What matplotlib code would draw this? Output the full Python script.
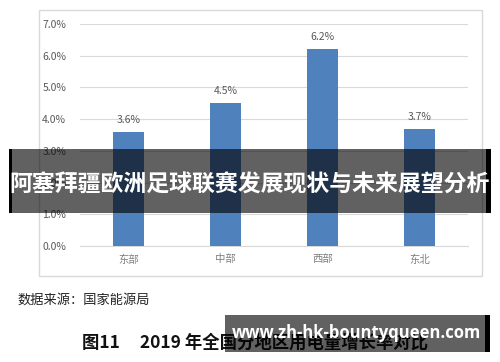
import matplotlib
matplotlib.use("Agg")
import matplotlib.pyplot as plt
from matplotlib.patches import Rectangle

plt.rcParams['font.family'] = ['Noto Sans CJK SC', 'DejaVu Sans']

# 数据
regions = ['东部', '中部', '西部', '东北']
growth = [3.6, 4.5, 6.2, 3.7]
yticks = [0, 1, 2, 3, 4, 5, 6, 7]

banner_text = '阿塞拜疆欧洲足球联赛发展现状与未来展望分析'
source_text = '数据来源：国家能源局'
caption_text = '图11     2019 年全国分地区用电量增长率对比'
watermark_text = 'www.zh-hk-bountyqueen.com'

W, H = 500, 362
fig = plt.figure(figsize=(W / 100, H / 100), dpi=100)

def fx(px):
    return px / W

def fy(py):
    return 1 - py / H

# 图表外框
fig.patches.append(Rectangle((fx(39), fy(276)), fx(443), 266 / H,
                             transform=fig.transFigure, fill=False,
                             edgecolor='#d9d9d9', linewidth=1))

ax = fig.add_axes([fx(80), fy(246), fx(388), 222 / H])
x = range(len(regions))
bars = ax.bar(x, growth, width=0.31, color='#4f81bd', zorder=3)
for xi, v in zip(x, growth):
    ax.text(xi, v + 0.22, f'{v:.1f}%', ha='center', va='bottom',
            fontsize=7.5, color='#595959')

ax.set_ylim(0, 7)
ax.set_xlim(-0.5, len(regions) - 0.5)
ax.set_yticks(yticks)
ax.set_yticklabels([f'{t:.1f}%' for t in yticks], fontsize=7.5, color='#595959')
ax.set_xticks(list(x))
ax.set_xticklabels(regions, fontsize=7.5, color='#7f7f7f')
ax.tick_params(axis='both', length=0)
ax.tick_params(axis='y', pad=10)
ax.tick_params(axis='x', pad=6)
ax.grid(axis='y', color='#d9d9d9', linewidth=0.8, zorder=0)
for s in ['top', 'right', 'left']:
    ax.spines[s].set_visible(False)
ax.spines['bottom'].set_color('#d9d9d9')

# 底部文字
fig.text(fx(17), fy(300), source_text, fontsize=9.5, color='#222222',
         va='center', ha='left')
fig.text(fx(82), fy(343), caption_text, fontsize=12.5, color='#111111',
         fontweight='bold', va='center', ha='left')

# 中间横幅
fig.patches.append(Rectangle((fx(9), fy(213)), fx(480), 64 / H,
                             transform=fig.transFigure, facecolor='black',
                             alpha=0.62, edgecolor='none', zorder=5))
fig.patches.append(Rectangle((fx(9), fy(213)), fx(3), 64 / H,
                             transform=fig.transFigure, facecolor='black',
                             edgecolor='none', zorder=5))
fig.patches.append(Rectangle((fx(486), fy(213)), fx(5), 64 / H,
                             transform=fig.transFigure, facecolor='black',
                             edgecolor='none', zorder=5))
fig.text(fx(250), fy(185), banner_text, fontsize=16.5, color='white',
         fontweight='bold', va='center', ha='center', zorder=6)

# 水印
fig.patches.append(Rectangle((fx(225), fy(352)), fx(260), 37 / H,
                             transform=fig.transFigure, facecolor='black',
                             alpha=0.62, edgecolor='none', zorder=5))
fig.patches.append(Rectangle((fx(485), fy(352)), fx(5), 37 / H,
                             transform=fig.transFigure, facecolor='black',
                             edgecolor='none', zorder=5))
fig.text(fx(356), fy(333), watermark_text, fontsize=12, color='white',
         fontweight='bold', va='center', ha='center', zorder=6,
         family=['Open Sans', 'DejaVu Sans'])

fig.savefig('out.png', dpi=100)
